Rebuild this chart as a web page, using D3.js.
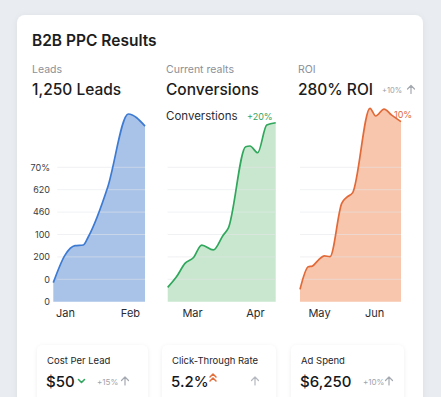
<!DOCTYPE html>
<html><head><meta charset="utf-8">
<script src="https://cdn.jsdelivr.net/npm/d3@7"></script>
<style>
html,body{margin:0;padding:0;background:#e9ecf0;}
svg{display:block;font-family:Inter,"Noto Sans",sans-serif;}
</style></head>
<body><svg id="c" width="441" height="397"></svg>
<script>
// ---- data ----
const title = "B2B PPC Results";
const panelLabels = ["Leads", "Current realts", "ROI"];
const panelHeadlines = ["1,250 Leads", "Conversions", "280% ROI"];
const monthLabels = [["Jan", "Feb"], ["Mar", "Apr"], ["May", "Jun"]];
const monthPositions = [[12.8, 83.6], [22.5, 80.8], [18.8, 73.3]];
const yTickValues = [0, 100, 200, 300, 400, 500, 600];
const yTickLabels = ["0", "0", "200", "100", "460", "620", "70%"];

const leadsX = [0, 12.8, 23.7, 32.7, 38.2, 59.3, 81.8, 100];
const leadsY = [85, 208, 250, 253, 290, 511, 838, 784];

const convX = [0, 8.3, 16, 23.7, 31.5, 42.2, 51.5, 56.1, 72.2, 76.2, 83.3, 91.7, 100];
const convY = [64, 112, 171, 196, 253, 231, 298, 328, 692, 695, 665, 789, 799];

const roiX = [0, 8.2, 12.2, 18.2, 24.1, 29.7, 41.3, 46.2, 52.2, 69.3, 74.9, 83.2, 90.8, 100];
const roiY = [55, 156, 159, 186, 205, 201, 439, 466, 487, 863, 829, 860, 833, 804];

const kpiLabels = ["Cost Per Lead", "Click-Through Rate", "Ad Spend"];
const kpiValues = ["$50", "5.2%", "$6,250"];
const kpiDeltas = ["+15%", "", "+10%"];

// ---- drawing ----
const svg = d3.select("#c");
const defs = svg.append("defs");
const sh = defs.append("filter").attr("id","sh").attr("x","-20%").attr("y","-20%").attr("width","140%").attr("height","140%");
sh.append("feDropShadow").attr("dx",0).attr("dy",1).attr("stdDeviation",2.2).attr("flood-color","#000").attr("flood-opacity",0.07);
const sh2 = defs.append("filter").attr("id","sh2").attr("x","-20%").attr("y","-20%").attr("width","140%").attr("height","140%");
sh2.append("feDropShadow").attr("dx",0).attr("dy",1).attr("stdDeviation",3).attr("flood-color","#000").attr("flood-opacity",0.06);

svg.append("rect").attr("x",17).attr("y",15).attr("width",406).attr("height",420).attr("rx",8)
  .attr("fill","#ffffff").attr("filter","url(#sh2)");

svg.append("text").attr("x",32).attr("y",46).text(title)
  .attr("font-size",15.5).attr("font-weight",600).attr("fill","#1c1d21");

const y = d3.scaleLinear().domain([0, 900]).range([301.7, 100.1]);

const panels = [
  {x0:53.3, x1:145, xs:leadsX, ys:leadsY, line:"#3d7bd3", fill:"#a9c3e8", hx:32},
  {x0:167.7, x1:275.7, xs:convX, ys:convY, line:"#30a75c", fill:"#c9e7cf", hx:166},
  {x0:300, x1:401, xs:roiX, ys:roiY, line:"#e26a38", fill:"#f8c6ad", hx:298}
];

panels.forEach((p, i) => {
  const x = d3.scaleLinear().domain([0, 100]).range([p.x0, p.x1]);
  const g = svg.append("g");
  const pts = p.xs.map((v, k) => [v, p.ys[k]]);
  const area = d3.area().x(d => x(d[0])).y0(y(0)).y1(d => y(d[1])).curve(d3.curveMonotoneX);
  const line = d3.line().x(d => x(d[0])).y(d => y(d[1])).curve(d3.curveMonotoneX);
  g.append("path").datum(pts).attr("d", area).attr("fill", p.fill);
  g.selectAll("line.grid").data(yTickValues.slice(1)).join("line")
    .attr("x1", p.x0 + (i===0?4:0)).attr("x2", p.x1)
    .attr("y1", d => y(d)).attr("y2", d => y(d))
    .attr("stroke", "#e4e6ea").attr("stroke-opacity", 0.55).attr("stroke-width", 1);
  g.append("path").datum(pts).attr("d", line).attr("fill","none")
    .attr("stroke", p.line).attr("stroke-width", 1.7).attr("stroke-linejoin","round");
  const ax = d3.axisBottom(x).tickValues(monthPositions[i]).tickFormat((d, k) => monthLabels[i][k]).tickSize(0).tickPadding(0);
  const axg = svg.append("g").attr("transform", `translate(0,${307})`).call(ax);
  axg.select(".domain").remove();
  axg.selectAll("text").attr("font-size", 11).attr("fill", "#2a2b30").attr("dy", "0.95em")
    .attr("font-family", "Inter,'Noto Sans',sans-serif");
  svg.append("text").attr("x", p.hx).attr("y", 73).text(panelLabels[i])
    .attr("font-size", 10.5).attr("fill", "#8c9098");
  svg.append("text").attr("x", p.hx).attr("y", 95).text(panelHeadlines[i])
    .attr("font-size", 15.5).attr("font-weight", 500).attr("fill", "#1c1d21");
});

const ya = d3.axisLeft(y).tickValues(yTickValues).tickFormat((d, k) => yTickLabels[k]).tickSize(0).tickPadding(0);
const yag = svg.append("g").attr("transform", "translate(50,0)").call(ya);
yag.select(".domain").remove();
yag.selectAll("text").attr("font-size", 9).attr("fill", "#3a3b40").attr("font-family", "Inter,'Noto Sans',sans-serif");

svg.append("text").attr("x",166).attr("y",120).text("Converstions").attr("font-size",11.5).attr("fill","#2a2b30");
svg.append("text").attr("x",247).attr("y",120).text("+20%").attr("font-size",9).attr("fill","#35a55f");
svg.append("text").attr("x",394).attr("y",118).text("10%").attr("font-size",9).attr("fill","#e26a38");
svg.append("text").attr("x",382).attr("y",93).text("+10%").attr("font-size",7.5).attr("fill","#9a9ea6");

function upArrow(cx, cy, col) {
  svg.append("path").attr("d", `M${cx},${cy-4} L${cx},${cy+4} M${cx-3.5},${cy-0.5} L${cx},${cy-4} L${cx+3.5},${cy-0.5}`)
    .attr("fill","none").attr("stroke",col).attr("stroke-width",1.2).attr("stroke-linecap","round").attr("stroke-linejoin","round");
}
upArrow(411, 89.5, "#a4a8b0");

const cardX = [37, 162, 291];
const cardW = [111, 114, 113];
kpiLabels.forEach((lab, i) => {
  svg.append("rect").attr("x", cardX[i]).attr("y", 345).attr("width", cardW[i]).attr("height", 70).attr("rx", 6)
    .attr("fill", "#fff").attr("filter", "url(#sh)");
  svg.append("text").attr("x", cardX[i] + 10).attr("y", 364).text(lab).attr("font-size", 9.5).attr("fill", "#25262b");
  svg.append("text").attr("x", cardX[i] + 9).attr("y", 386.5).text(kpiValues[i]).attr("font-size", 15)
    .attr("font-weight", 500).attr("fill", "#16171b");
});
svg.append("path").attr("d","M78.5,379.5 L81.5,382.5 L84.5,379.5").attr("fill","none").attr("stroke","#31a65e").attr("stroke-width",1.6).attr("stroke-linecap","round").attr("stroke-linejoin","round");
svg.append("text").attr("x",97).attr("y",385).text(kpiDeltas[0]).attr("font-size",8).attr("fill","#a0a4ab");
upArrow(125, 381, "#a4a8b0");
svg.append("path").attr("d","M210,377 L213,374 L216,377 M210,381 L213,378 L216,381").attr("fill","none").attr("stroke","#e2703d").attr("stroke-width",1.5).attr("stroke-linecap","round").attr("stroke-linejoin","round");
upArrow(255, 381, "#b4b8bf");
svg.append("text").attr("x",363).attr("y",385).text(kpiDeltas[2]).attr("font-size",8).attr("fill","#a0a4ab");
upArrow(389, 381, "#a4a8b0");
</script></body></html>
